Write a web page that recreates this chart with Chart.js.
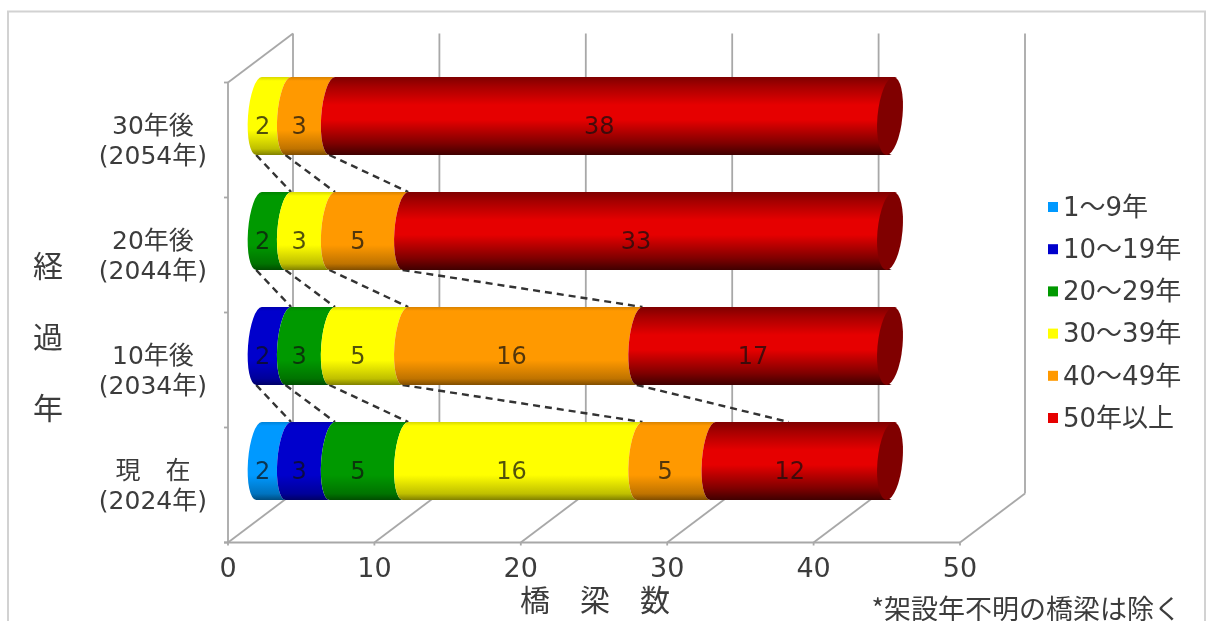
<!DOCTYPE html>
<html lang="ja">
<head>
<meta charset="utf-8">
<title>経過年 橋梁数</title>
<script src="https://cdn.jsdelivr.net/npm/chart.js@4/dist/chart.umd.js"></script>
<style>
  html, body { margin: 0; background: #fff; }
  canvas { display: block; filter: blur(.4px); }
</style>
</head>
<body>
<canvas id="chart" width="1206" height="621"></canvas>
<script>
const periods = [['30年後', '(2054年)'], ['20年後', '(2044年)'], ['10年後', '(2034年)'], ['現　在', '(2024年)']];
const seriesNames = ['1〜9年', '10〜19年', '20〜29年', '30〜39年', '40〜49年', '50年以上'];
const seriesColors = ['#0099ff', '#0000cc', '#009900', '#ffff00', '#ff9900', '#e60000'];
const age1to9 = [0, 0, 0, 2];
const age10to19 = [0, 0, 2, 3];
const age20to29 = [0, 2, 3, 5];
const age30to39 = [2, 3, 5, 16];
const age40to49 = [3, 5, 16, 5];
const age50plus = [38, 33, 17, 12];
const seriesValues = [age1to9, age10to19, age20to29, age30to39, age40to49, age50plus];
const xTicks = [0, 10, 20, 30, 40, 50];
// series lines between neighbouring bars, as [cumulative above, cumulative below]
const lines30to20 = [[0, 2], [2, 5], [5, 10]];
const lines20to10 = [[0, 2], [2, 5], [5, 10], [10, 26]];
const lines10toNow = [[0, 2], [2, 5], [5, 10], [10, 26], [26, 36]];
const seriesLines = [lines30to20, lines20to10, lines10toNow];

const FONT = '"DejaVu Sans", "Noto Sans CJK JP", sans-serif';
const CJK = '"Noto Sans CJK JP", sans-serif';
const TEXT = '#3c3c3c';
const WALL = '#a8a8a8';
const RX = 11;      // half width of the segment boundaries
const TILT = 2.8;   // how far they lean
const CAP_RX = 12.5;
const CAP_TILT = 3.5;
const FRONT = { dx: -20, dy: 24 };
const BACK = { dx: 45, dy: -25 };

function shade(hex, f) {
  const n = parseInt(hex.slice(1), 16);
  const c = [n >> 16, (n >> 8) & 255, n & 255].map(v => Math.round(v * f));
  return 'rgb(' + c.join(',') + ')';
}

function cylinderFill(ctx, color, top, bottom) {
  const g = ctx.createLinearGradient(0, top, 0, bottom);
  const isRed = color === '#e60000';
  const stops = isRed
    ? [[0, .55], [.12, .72], [.36, 1], [.55, 1], [.85, .55], [1, .28]]
    : [[0, .85], [.05, 1], [.68, 1], [.92, .75], [1, .5]];
  stops.forEach(s => g.addColorStop(s[0], shade(color, s[1])));
  return g;
}

// left half of a leaning ellipse whose leftmost point sits on x
function endArc(ctx, x, yc, ry, down) {
  const k = -TILT / ry;
  ctx.save();
  ctx.transform(1, 0, k, 1, -k * yc, 0);
  if (down) ctx.ellipse(x + RX, yc, RX, ry, 0, -Math.PI / 2, Math.PI / 2, true);
  else ctx.ellipse(x + RX, yc, RX, ry, 0, Math.PI / 2, -Math.PI / 2, false);
  ctx.restore();
}

function line(ctx, x1, y1, x2, y2) {
  ctx.beginPath();
  ctx.moveTo(x1, y1);
  ctx.lineTo(x2, y2);
  ctx.stroke();
}

const frame3d = {
  id: 'frame3d',
  beforeDraw(chart) {
    const ctx = chart.ctx;
    ctx.save();
    ctx.fillStyle = '#fff';
    ctx.fillRect(0, 0, chart.width, chart.height);
    ctx.strokeStyle = '#d2d2d2';
    ctx.lineWidth = 2;
    ctx.beginPath();
    ctx.moveTo(8, 621);
    ctx.lineTo(8, 11.5);
    ctx.lineTo(1205, 11.5);
    ctx.lineTo(1205, 621);
    ctx.stroke();
    ctx.restore();
  },
  beforeDatasetsDraw(chart) {
    const ctx = chart.ctx, x = chart.scales.x, area = chart.chartArea;
    const floorF = area.bottom + FRONT.dy, floorB = area.bottom + BACK.dy;
    const topF = area.top + FRONT.dy, topB = area.top + BACK.dy;
    const x0 = x.getPixelForValue(0);
    ctx.save();
    ctx.strokeStyle = WALL;
    ctx.lineWidth = 1.8;
    xTicks.forEach(v => {
      const p = x.getPixelForValue(v);
      line(ctx, p + BACK.dx, topB, p + BACK.dx, floorB);
      line(ctx, p + FRONT.dx, floorF, p + BACK.dx, floorB);
      line(ctx, p + FRONT.dx, floorF, p + FRONT.dx, floorF + 3);
    });
    line(ctx, x0 + FRONT.dx - 4, floorF, x.getPixelForValue(50) + FRONT.dx, floorF);
    line(ctx, x0 + FRONT.dx, topF, x0 + FRONT.dx, floorF);
    line(ctx, x0 + FRONT.dx, topF, x0 + BACK.dx, topB);
    const step = (area.bottom - area.top) / periods.length;
    for (let i = 0; i <= periods.length; i++) {
      const yy = area.top + i * step + FRONT.dy;
      line(ctx, x0 + FRONT.dx - 4, yy, x0 + FRONT.dx, yy);
    }
    ctx.restore();
  },
  // bars are cylinders here, positions still come from the bar elements
  beforeDatasetDraw() { return false; },
  afterDatasetsDraw(chart) {
    const ctx = chart.ctx, x = chart.scales.x;
    const metas = seriesValues.map((_, i) => chart.getDatasetMeta(i));
    const half = metas[0].data[0].height / 2;

    ctx.save();
    ctx.strokeStyle = '#333';
    ctx.lineWidth = 2.4;
    ctx.setLineDash([7, 5]);
    seriesLines.forEach((pairs, r) => {
      const yUp = metas[0].data[r].y + half, yLow = metas[0].data[r + 1].y - half;
      pairs.forEach(p => {
        line(ctx, x.getPixelForValue(p[0]) + RX - TILT, yUp, x.getPixelForValue(p[1]) + RX + TILT, yLow);
      });
    });
    ctx.setLineDash([]);

    periods.forEach((_, r) => {
      let end = null, yc = 0;
      metas.forEach((meta, s) => {
        if (!seriesValues[s][r]) return;
        const el = meta.data[r];
        yc = el.y;
        end = el.x;
        ctx.beginPath();
        endArc(ctx, el.base, el.y, half, true);
        // the last segment runs on under the cap
        const isLast = s === metas.length - 1;
        endArc(ctx, el.x + (isLast ? 6 : 0), el.y, half, false);
        ctx.closePath();
        ctx.fillStyle = cylinderFill(ctx, seriesColors[s], el.y - half, el.y + half);
        ctx.fill();
      });
      // open end of the cylinder
      const k = -CAP_TILT / half;
      ctx.save();
      ctx.transform(1, 0, k, 1, -k * yc, 0);
      ctx.beginPath();
      ctx.ellipse(end + CAP_RX, yc, CAP_RX, half, 0, 0, Math.PI * 2);
      ctx.restore();
      ctx.fillStyle = '#800000';
      ctx.fill();
    });

    ctx.font = '24px ' + FONT;
    ctx.textAlign = 'center';
    ctx.textBaseline = 'middle';
    ctx.fillStyle = 'rgba(15,15,15,.72)';
    metas.forEach((meta, s) => {
      meta.data.forEach((el, r) => {
        const v = seriesValues[s][r];
        if (v) ctx.fillText(String(v), (el.base + el.x) / 2, el.y + 12);
      });
    });
    ctx.restore();
  },
  afterDraw(chart) {
    const ctx = chart.ctx;
    ctx.save();
    ctx.fillStyle = TEXT;
    ctx.textBaseline = 'middle';

    // legend
    ctx.textAlign = 'left';
    ctx.font = '26px ' + FONT;
    seriesNames.forEach((name, i) => {
      const yy = 207 + i * 42.2;
      ctx.fillStyle = seriesColors[i];
      ctx.fillRect(1048, yy - 5, 10, 10);
      ctx.fillStyle = TEXT;
      ctx.fillText(name, 1063, yy + 2);
    });

    // axis titles and note
    ctx.font = '30px ' + CJK;
    ctx.textAlign = 'center';
    ctx.fillText('経', 48, 266);
    ctx.fillText('過', 48, 337);
    ctx.fillText('年', 48, 408);
    ctx.fillText('橋　梁　数', 595, 600);
    ctx.font = '27px ' + CJK;
    ctx.textAlign = 'right';
    ctx.fillText('*架設年不明の橋梁は除く', 1181, 609);
    ctx.restore();
  }
};

new Chart(document.getElementById('chart'), {
  type: 'bar',
  data: {
    labels: periods,
    datasets: seriesValues.map((values, i) => ({
      label: seriesNames[i],
      data: values,
      backgroundColor: seriesColors[i],
      barThickness: 78
    }))
  },
  options: {
    indexAxis: 'y',
    responsive: false,
    animation: false,
    layout: { padding: { left: 0, top: 58.5, right: 226, bottom: 0 } },
    plugins: { legend: { display: false }, tooltip: { enabled: false } },
    scales: {
      x: {
        stacked: true,
        min: 0,
        max: 50,
        grid: { display: false },
        border: { display: false },
        afterFit(scale) {
          scale.height = 102.5;
          scale.paddingLeft = 0;
          scale.paddingRight = 0;
        },
        ticks: {
          stepSize: 10,
          padding: 27.5,
          labelOffset: -20,
          maxRotation: 0,
          color: TEXT,
          font: { family: FONT, size: 27 }
        }
      },
      y: {
        stacked: true,
        grid: { display: false },
        border: { display: false },
        afterFit(scale) {
          scale.width = 248;
          scale.paddingTop = 0;
          scale.paddingBottom = 0;
        },
        ticks: {
          crossAlign: 'center',
          padding: 33,
          labelOffset: 26,
          color: TEXT,
          font: { family: FONT, size: 25, lineHeight: 1.2 }
        }
      }
    }
  },
  plugins: [frame3d]
});
</script>
</body>
</html>
